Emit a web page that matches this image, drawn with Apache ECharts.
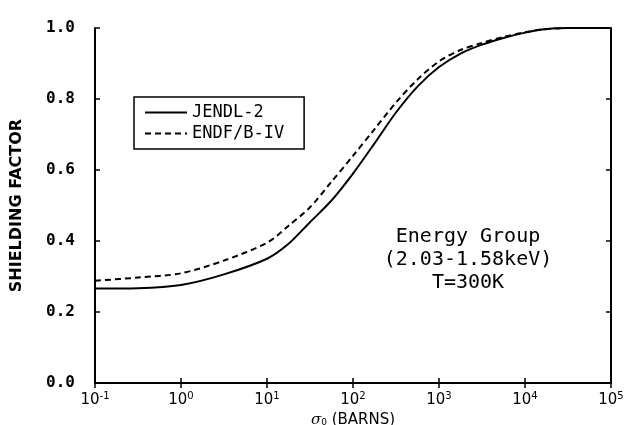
<!DOCTYPE html>
<html>
<head>
<meta charset="utf-8">
<script src="https://cdn.jsdelivr.net/npm/echarts@6/dist/echarts.min.js"></script>
<style>html,body{margin:0;padding:0;background:#fff;}#c{width:629px;height:425px;}</style>
</head>
<body>
<div id="c"></div>
<script>
// sigma0 (barns)
const sigma0 = [0.1, 0.316, 1, 3.16, 10, 17.8, 31.6, 56.2, 100, 178, 316, 562, 1000, 1780, 3160, 5620, 10000, 15800, 31600, 100000];
const jendl2 = [0.266, 0.267, 0.276, 0.306, 0.350, 0.392, 0.453, 0.514, 0.590, 0.675, 0.762, 0.835, 0.890, 0.928, 0.953, 0.972, 0.987, 0.996, 1.0, 1.0];
const endfb4 = [0.288, 0.297, 0.309, 0.345, 0.395, 0.443, 0.495, 0.567, 0.640, 0.715, 0.790, 0.855, 0.906, 0.938, 0.958, 0.975, 0.988, 0.996, 1.0, 1.0];
const seriesNames = ['JENDL-2', 'ENDF/B-IV'];
const yTicks = [0.0, 0.2, 0.4, 0.6, 0.8, 1.0];
const annotation = ['Energy Group', '(2.03-1.58keV)', 'T=300K'];

const chart = echarts.init(document.getElementById('c'));
const toPairs = (xs, ys) => xs.map((x, i) => [x, ys[i]]);
const axisLine = { show: true, lineStyle: { color: '#000', width: 2 } };
const tickIn = { show: true, inside: true, length: 5, lineStyle: { color: '#000', width: 1.5 } };

chart.setOption({
  backgroundColor: '#fff',
  animation: false,
  grid: { left: 95, right: 18, top: 28, bottom: 42, containLabel: false, outerBoundsMode: 'none' },
  legend: {
    orient: 'vertical',
    left: 134, top: 97,
    padding: [7, 20, 7, 10],
    itemGap: 4,
    itemWidth: 42, itemHeight: 16,
    borderColor: '#000', borderWidth: 1.5,
    itemStyle: { color: 'rgba(0,0,0,0)', borderWidth: 0 },
    textStyle: { fontFamily: 'DejaVu Sans Mono', fontSize: 17, color: '#000' },
    data: seriesNames
  },
  xAxis: [{
    type: 'log', logBase: 10, min: 0.1, max: 100000,
    axisLine: axisLine, axisTick: tickIn, splitLine: { show: false }, minorTick: { show: false },
    axisLabel: {
      margin: 8, color: '#000',
      formatter: v => '{b|10}{s|' + Math.round(Math.log10(v)) + '}',
      rich: {
        b: { fontFamily: 'DejaVu Sans', fontSize: 15, color: '#000' },
        s: { fontFamily: 'DejaVu Sans', fontSize: 10, color: '#000', verticalAlign: 'top', padding: [0, 0, 8, 0] }
      }
    },
    name: '{i|σ}{sub|0}{n| (BARNS)}',
    nameLocation: 'middle', nameGap: 29,
    nameTextStyle: {
      rich: {
        i: { fontFamily: 'DejaVu Serif', fontStyle: 'italic', fontSize: 15, color: '#000' },
        sub: { fontFamily: 'DejaVu Sans', fontSize: 9, color: '#000', padding: [6, 0, 0, 0] },
        n: { fontFamily: 'DejaVu Sans', fontSize: 15, color: '#000' }
      }
    }
  }, {
    type: 'log', logBase: 10, min: 0.1, max: 100000, position: 'top',
    axisLine: axisLine, axisTick: tickIn, axisLabel: { show: false }, splitLine: { show: false }
  }],
  yAxis: [{
    type: 'value', min: 0, max: 1, interval: 0.2,
    axisLine: axisLine, axisTick: tickIn, splitLine: { show: false },
    axisLabel: {
      margin: 20, color: '#000',
      fontFamily: 'DejaVu Sans Mono', fontWeight: 'bold', fontSize: 16,
      formatter: v => v.toFixed(1)
    },
    name: 'SHIELDING FACTOR', nameLocation: 'middle', nameGap: 70,
    nameTextStyle: { fontFamily: 'DejaVu Sans', fontWeight: 'bold', fontSize: 16, color: '#000' }
  }, {
    type: 'value', min: 0, max: 1, interval: 0.2, position: 'right',
    axisLine: axisLine, axisTick: tickIn, axisLabel: { show: false }, splitLine: { show: false }
  }],
  series: [{
    name: seriesNames[0], type: 'line', smooth: 0.3, symbol: 'none',
    data: toPairs(sigma0, jendl2),
    lineStyle: { color: '#000', width: 2, type: 'solid' },
    itemStyle: { color: '#000' }
  }, {
    name: seriesNames[1], type: 'line', smooth: 0.3, symbol: 'none',
    data: toPairs(sigma0, endfb4),
    lineStyle: { color: '#000', width: 2, type: [6, 4] },
    itemStyle: { color: '#000' }
  }],
  graphic: [{
    type: 'text', left: 468 - 100, top: 225,
    style: {
      text: annotation.join('\n'), width: 200, align: 'center',
      x: 100, textAlign: 'center',
      fontFamily: 'DejaVu Sans Mono', fontSize: 20, lineHeight: 23, fill: '#000'
    }
  }]
});
</script>
</body>
</html>
